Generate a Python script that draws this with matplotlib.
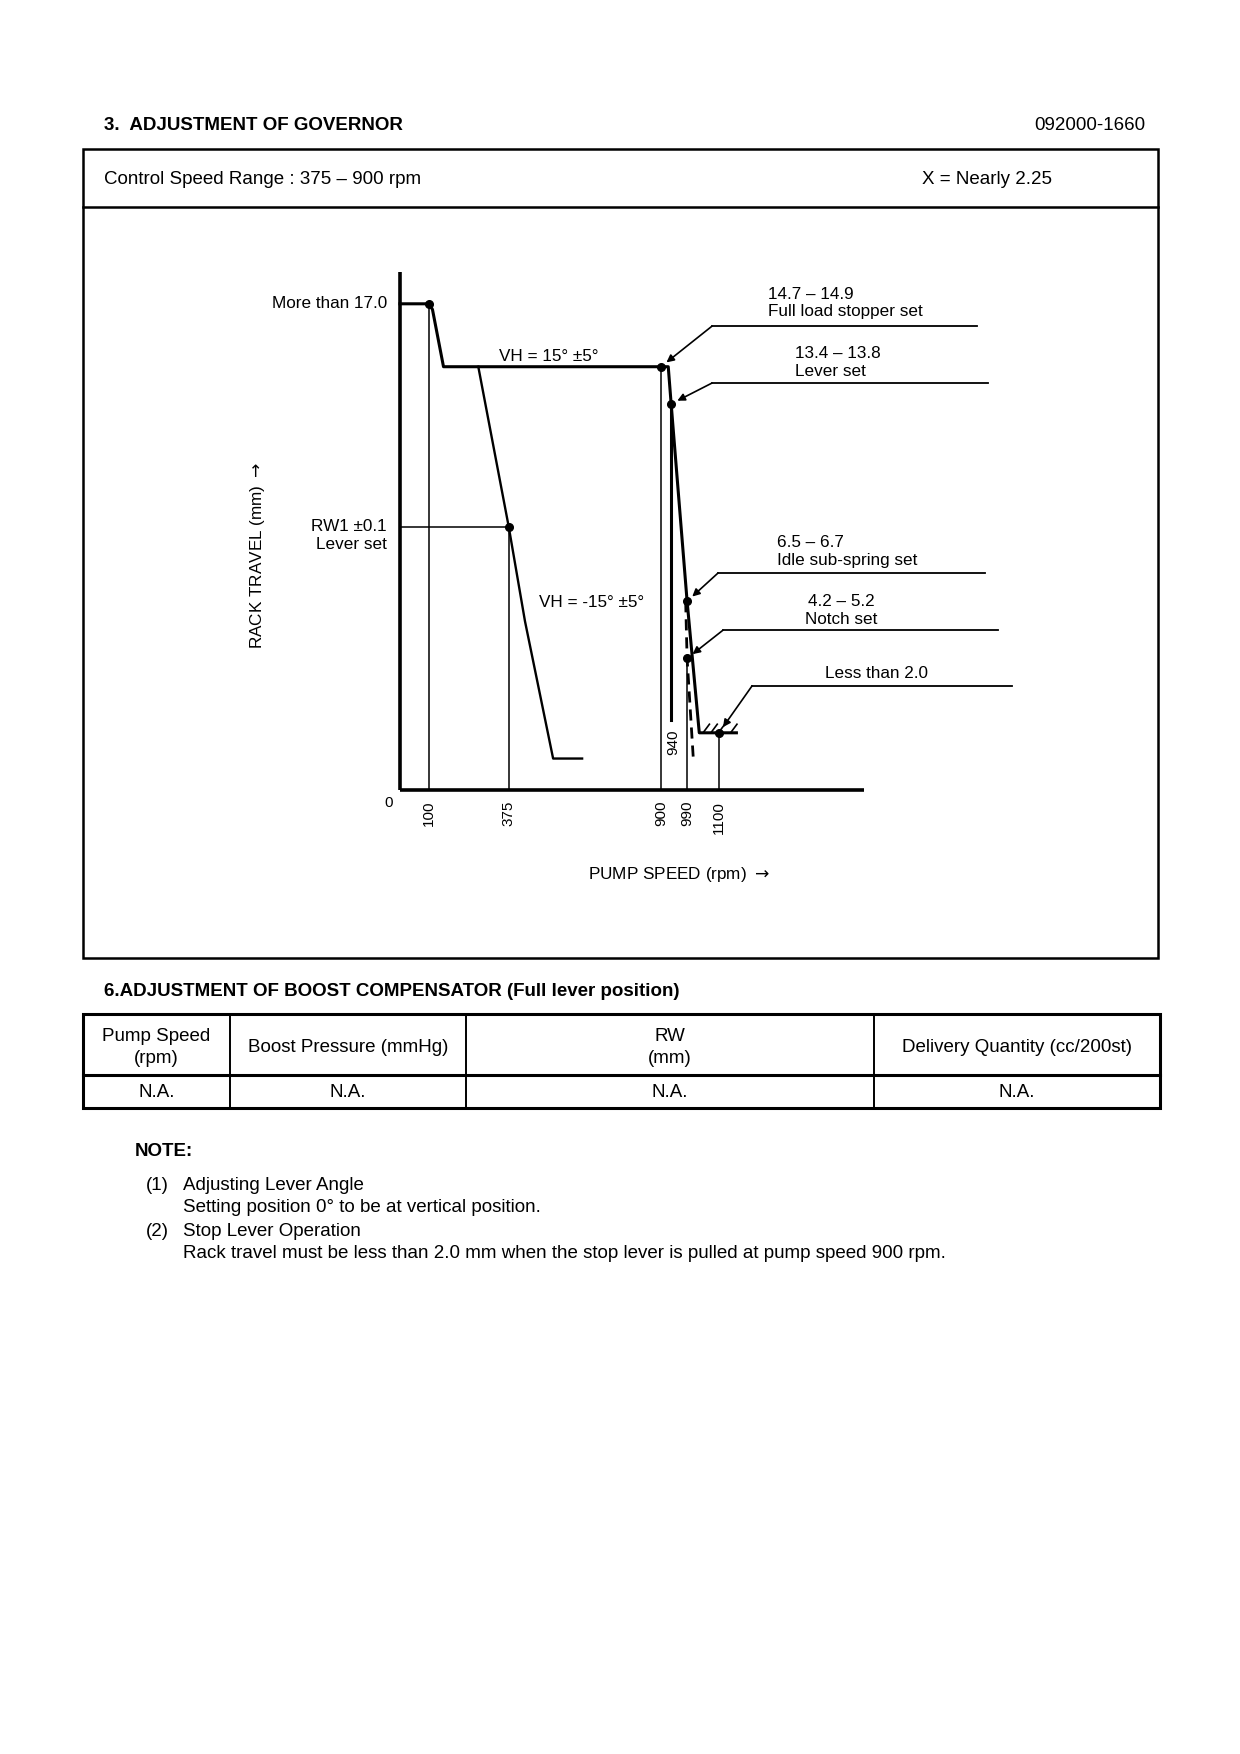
import matplotlib
matplotlib.use('Agg')
import matplotlib.pyplot as plt
from matplotlib.patches import Rectangle

plt.rcParams['font.family'] = ['Liberation Sans', 'DejaVu Sans']
plt.rcParams['mathtext.fontset'] = 'dejavusans'

# governor characteristic: pump speed (rpm) vs rack travel (mm)
main_rpm = [0, 100, 112, 150, 900, 925, 935, 990, 1032, 1160]
main_mm = [17.0, 17.0, 16.8, 14.8, 14.8, 14.8, 13.5, 6.6, 2.0, 2.0]

# VH = -15 deg lever line
vh_rpm = [270, 375, 431, 528, 628]
vh_mm = [14.8, 9.2, 5.9, 1.1, 1.1]

# dashed idle / notch line
idle_rpm = [985, 990, 1012]
idle_mm = [6.6, 4.6, 1.0]

# 940 rpm stop line
stop_rpm = [935, 935]
stop_mm = [13.5, 2.45]

# set points
dot_rpm = [100, 900, 935, 375, 990, 990, 1100]
dot_mm = [17.0, 14.8, 13.5, 9.2, 6.6, 4.6, 2.0]

# speed marks on the x axis and height of each guide line
tick_rpm = [100, 375, 900, 990, 1100]
tick_mm = [17.0, 9.2, 14.8, 4.6, 2.0]
rw1_mm = 9.2

# hatch marks of the "less than 2.0" limit
hatch_rpm = [1045, 1072, 1098, 1140]

# leader notes on the right
note_text = ['14.7 – 14.9\nFull load stopper set',
             '13.4 – 13.8\nLever set',
             '6.5 – 6.7\nIdle sub-spring set',
             '4.2 – 5.2\nNotch set',
             'Less than 2.0']
note_x = [1269, 1362, 1300, 1521, 1466]
note_y = [17.03, 14.95, 8.34, 6.28, 4.09]
note_ha = ['left', 'left', 'left', 'center', 'left']
elbow_rpm = [1076, 1076, 1097, 1114, 1214]
elbow_mm = [16.22, 14.23, 7.59, 5.59, 3.64]
leader_end = [1990, 2028, 2017, 2062, 2110]
target_rpm = [900, 935, 990, 990, 1100]
target_mm = [14.8, 13.5, 6.6, 4.6, 2.0]

# boost compensator table
table_head = ['Pump Speed\n(rpm)', 'Boost Pressure (mmHg)', 'RW\n(mm)', 'Delivery Quantity (cc/200st)']
table_row = ['N.A.', 'N.A.', 'N.A.', 'N.A.']
col_edges = [83, 230, 466, 874, 1160]

notes = [('(1)', 'Adjusting Lever Angle'),
         ('', 'Setting position 0° to be at vertical position.'),
         ('(2)', 'Stop Lever Operation'),
         ('', 'Rack travel must be less than 2.0 mm when the stop lever is pulled at pump speed 900 rpm.')]

W, H = 1240, 1754
fig = plt.figure(figsize=(W / 100, H / 100), dpi=100)

# page layer in pixel coordinates
page = fig.add_axes([0, 0, 1, 1])
page.set_xlim(0, W)
page.set_ylim(H, 0)
page.axis('off')

fs = 13.5
page.text(104, 126, '3.  ADJUSTMENT OF GOVERNOR', fontsize=fs, fontweight='bold', va='center')
page.text(1145, 126, '092000-1660', fontsize=fs, ha='right', va='center')
page.add_patch(Rectangle((83, 149), 1158 - 83, 958 - 149, fill=False, lw=1.8, ec='black'))
page.plot([83, 1158], [207, 207], color='black', lw=1.8)
page.text(104, 179, 'Control Speed Range : 375 – 900 rpm', fontsize=fs, va='center')
page.text(922, 179, 'X = Nearly 2.25', fontsize=fs, va='center')

page.text(104, 991, '6.ADJUSTMENT OF BOOST COMPENSATOR (Full lever position)',
          fontsize=fs, fontweight='bold', va='center')

# table
t_top, t_mid, t_bot = 1014, 1075, 1108
page.add_patch(Rectangle((col_edges[0], t_top), col_edges[-1] - col_edges[0], t_bot - t_top,
                         fill=False, lw=2.2, ec='black'))
page.plot([col_edges[0], col_edges[-1]], [t_mid, t_mid], color='black', lw=2.2)
for cx in col_edges[1:-1]:
    page.plot([cx, cx], [t_top, t_bot], color='black', lw=1.4)
for i in range(4):
    xc = (col_edges[i] + col_edges[i + 1]) / 2
    page.text(xc, (t_top + t_mid) / 2 + 3, table_head[i], fontsize=fs, ha='center', va='center',
              linespacing=1.4)
    page.text(xc, (t_mid + t_bot) / 2 + 1, table_row[i], fontsize=fs, ha='center', va='center')

page.text(135, 1151, 'NOTE:', fontsize=fs, fontweight='bold', va='center')
for i, (num, line) in enumerate(notes):
    y = 1185 + i * 23
    if num:
        page.text(146, y, num, fontsize=fs, va='center')
    page.text(183, y, line, fontsize=fs, va='center')

# chart layer: x_px = 400 + 0.29*rpm, y_px = 790 - 28.6*mm
x0, x1 = -600, 2200
y0, y1 = -3.5, 19
left = 400 + 0.29 * x0
right = 400 + 0.29 * x1
bottom = 790 - 28.6 * y0
top = 790 - 28.6 * y1
ax = fig.add_axes([left / W, 1 - bottom / H, (right - left) / W, (bottom - top) / H])
ax.set_xlim(x0, x1)
ax.set_ylim(y0, y1)
ax.axis('off')

# axes
ax.plot([0, 0], [0, 18.1], color='black', lw=2.6, solid_capstyle='butt')
ax.plot([0, 1600], [0, 0], color='black', lw=2.6, solid_capstyle='butt')

# guide lines
for r, m in zip(tick_rpm, tick_mm):
    ax.plot([r, r], [0, m], color='black', lw=1.1)
ax.plot([0, 375], [rw1_mm, rw1_mm], color='black', lw=1.1)

# curves
ax.plot(main_rpm, main_mm, color='black', lw=2.2, solid_joinstyle='round')
ax.plot(vh_rpm, vh_mm, color='black', lw=1.7)
ax.plot(stop_rpm, stop_mm, color='black', lw=2.2)
ax.plot(idle_rpm, idle_mm, color='black', lw=2.0, ls=(0, (4, 2.5)))
ax.plot(dot_rpm, dot_mm, 'o', color='black', ms=5.5)

for h in hatch_rpm:
    ax.plot([h, h + 22], [2.0, 2.3], color='black', lw=1.2)

# leaders
cfs = 12.3
for i in range(len(note_text)):
    ax.plot([elbow_rpm[i], leader_end[i]], [elbow_mm[i], elbow_mm[i]], color='black', lw=1.3)
    ax.annotate('', xy=(target_rpm[i], target_mm[i]), xytext=(elbow_rpm[i], elbow_mm[i]),
                arrowprops=dict(arrowstyle='-|>', color='black', lw=1.2, shrinkA=0, shrinkB=5,
                                mutation_scale=11))
    ax.text(note_x[i], note_y[i], note_text[i], fontsize=cfs, ha=note_ha[i], va='center',
            multialignment=note_ha[i], linespacing=1.2)

# labels
ax.text(-45, 17.0, 'More than 17.0', fontsize=cfs, ha='right', va='center')
ax.text(-45, 8.9, 'RW1 ±0.1\nLever set', fontsize=cfs, ha='right', va='center',
        multialignment='right', linespacing=1.2)
ax.text(514, 15.15, 'VH = 15° ±5°', fontsize=cfs, ha='center', va='center')
ax.text(659, 6.54, 'VH = -15° ±5°', fontsize=cfs, ha='center', va='center')

ax.text(-38, -0.45, '0', fontsize=11, ha='center', va='center')
for r in tick_rpm:
    ax.text(r, -0.38, str(r), fontsize=11, rotation=90, ha='center', va='top')
ax.text(941, 2.1, '940', fontsize=11, rotation=90, ha='center', va='top')

ax.text(-490, 8.2, r'RACK TRAVEL (mm) $\rightarrow$', fontsize=cfs, rotation=90, ha='center', va='center')
ax.text(962, -2.94, r'PUMP SPEED (rpm) $\rightarrow$', fontsize=cfs, ha='center', va='center')

fig.savefig('out.png', dpi=100)
